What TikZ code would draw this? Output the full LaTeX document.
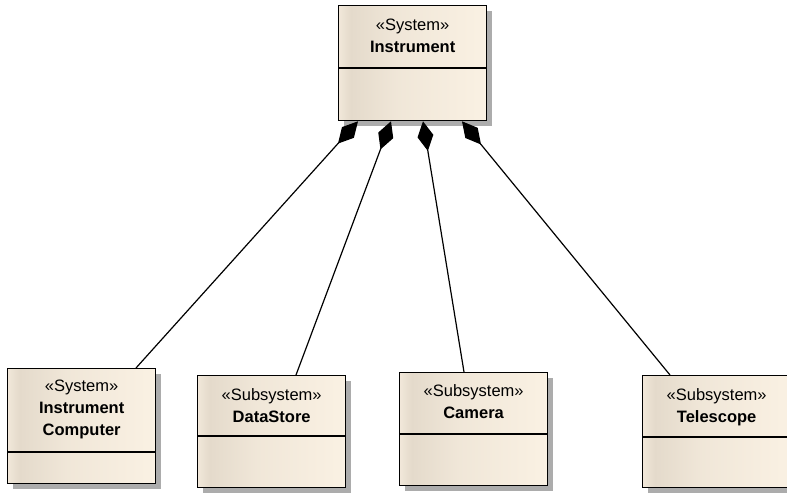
\documentclass[tikz,border=0pt]{standalone}
\usepackage{fontspec}
\setmainfont{Liberation Sans}
\usetikzlibrary{arrows.meta,calc,shadows}

\definecolor{fondclair}{RGB}{250,241,227}
\definecolor{fondsombre}{RGB}{228,218,203}
\definecolor{ombre}{RGB}{172,172,172}
\pgfdeclarehorizontalshading{fondclasse}{100bp}{color(0bp)=(fondclair); color(25bp)=(fondclair!60!fondsombre); color(29bp)=(fondsombre); color(45bp)=(fondclair!55!fondsombre); color(75bp)=(fondclair); color(100bp)=(fondclair)}

\begin{document}
\begin{tikzpicture}[x=1pt,y=-1pt]
\tikzstyle{classe} = [draw=black,line width=1.3pt,shading=fondclasse,minimum width=148pt,inner sep=0pt,anchor=north west,drop shadow={shadow xshift=5pt,shadow yshift=-5pt,fill=ombre,opacity=1}] %boite de classe
\tikzstyle{titre} = [anchor=north,align=center,inner sep=0pt,font=\fontsize{16.5}{22}\selectfont]
\tikzstyle{compo} = [line width=1.2pt,-{Diamond[length=30pt,width=16pt]}] %composition
\useasboundingbox (0,0) rectangle (787,493);

%les boites
\node[classe,minimum height=115pt] (inst) at (338,5) {};
\node[classe,minimum height=115pt] (ic) at (7,368) {};
\node[classe,minimum height=112pt] (ds) at (197,375) {};
\node[classe,minimum height=113pt] (cam) at (399,372) {};
\node[classe,minimum height=112pt] (tel) at (642,375) {};

%les textes
\node[titre] (inst-t) at ($(inst.north)+(0,14)$) {«System»\\\textbf{Instrument}};
\node[titre] (ic-t) at ($(ic.north)+(0,12)$) {«System»\\\textbf{Instrument}\\\textbf{Computer}};
\node[titre] (ds-t) at ($(ds.north)+(0,13)$) {«Subsystem»\\\textbf{DataStore}};
\node[titre] (cam-t) at ($(cam.north)+(0,12)$) {«Subsystem»\\\textbf{Camera}};
\node[titre] (tel-t) at ($(tel.north)+(0,13)$) {«Subsystem»\\\textbf{Telescope}};

%les separations
\draw[line width=1.3pt] (inst.west |- 0,68) -- (inst.east |- 0,68);
\draw[line width=1.3pt] (ic.west |- 0,452) -- (ic.east |- 0,452);
\draw[line width=1.3pt] (ds.west |- 0,436) -- (ds.east |- 0,436);
\draw[line width=1.3pt] (cam.west |- 0,434) -- (cam.east |- 0,434);
\draw[line width=1.3pt] (tel.west |- 0,437) -- (tel.east |- 0,437);

%les compositions
\draw[compo] ($(ic.north west)+(129,0)$) -- ($(inst.south west)+(20,0)$);
\draw[compo] ($(ds.north west)+(99,0)$) -- ($(inst.south west)+(53,0)$);
\draw[compo] ($(cam.north west)+(65,0)$) -- ($(inst.south west)+(85,0)$);
\draw[compo] ($(tel.north west)+(28,0)$) -- ($(inst.south west)+(124,0)$);
\end{tikzpicture}
\end{document}
